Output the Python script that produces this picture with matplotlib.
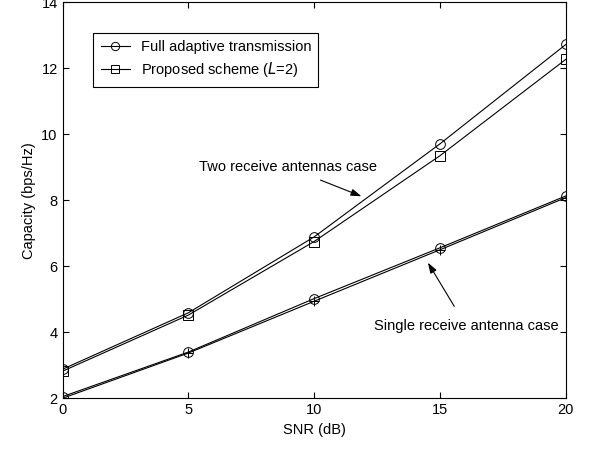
import matplotlib
matplotlib.use('Agg')
import matplotlib.pyplot as plt

plt.rcParams['font.family'] = 'Liberation Sans'
plt.rcParams['font.size'] = 10.5

snr = [0, 5, 10, 15, 20]
two_full = [2.88, 4.59, 6.89, 9.71, 12.72]
two_prop = [2.82, 4.52, 6.75, 9.35, 12.27]
one_full = [2.05, 3.40, 5.02, 6.56, 8.13]
one_prop = [2.00, 3.37, 4.94, 6.50, 8.08]

fig = plt.figure(figsize=(5.9, 4.5), dpi=100)
ax = fig.add_axes([0.106, 0.115, 0.853, 0.880])

ax.plot(snr, two_full, 'k-', marker='o', mfc='none', ms=7, lw=0.8, mew=0.7,
        label='Full adaptive transmission')
ax.plot(snr, two_prop, 'k-', marker='s', mfc='none', ms=7, lw=0.8, mew=0.7,
        label='Proposed scheme ($\\it{L}$=2)')
ax.plot(snr, one_full, 'k-', marker='o', mfc='none', ms=7, lw=0.8, mew=0.7)
ax.plot(snr, one_prop, 'k-', marker='+', ms=7, lw=0.8, mew=0.7)

ax.annotate('Two receive antennas case', xy=(11.88, 8.12), xytext=(8.96, 9.0),
            ha='center', va='center',
            arrowprops=dict(arrowstyle='-|>,head_length=0.6,head_width=0.2',
                            color='k', lw=0.8, shrinkA=6, shrinkB=0))
ax.annotate('Single receive antenna case', xy=(14.52, 6.11), xytext=(16.03, 4.2),
            ha='center', va='center',
            arrowprops=dict(arrowstyle='-|>,head_length=0.6,head_width=0.2',
                            color='k', lw=0.8, shrinkA=8, shrinkB=0))

ax.set_xlim(0, 20)
ax.set_ylim(2, 14)
ax.set_xticks([0, 5, 10, 15, 20])
ax.set_yticks([2, 4, 6, 8, 10, 12, 14])
ax.tick_params(direction='in', top=True, right=True, length=4, width=0.8)
for s in ax.spines.values():
    s.set_linewidth(0.8)
ax.set_xlabel('SNR (dB)')
ax.set_ylabel('Capacity (bps/Hz)')

leg = ax.legend(loc='upper left', bbox_to_anchor=(0.061, 0.922), fancybox=False,
                edgecolor='k', framealpha=1, handlelength=2.0, borderpad=0.5,
                labelspacing=0.4, handletextpad=0.75, borderaxespad=0,
                markerscale=0.85)
leg.get_frame().set_linewidth(0.8)

plt.savefig('out.png', dpi=100)
